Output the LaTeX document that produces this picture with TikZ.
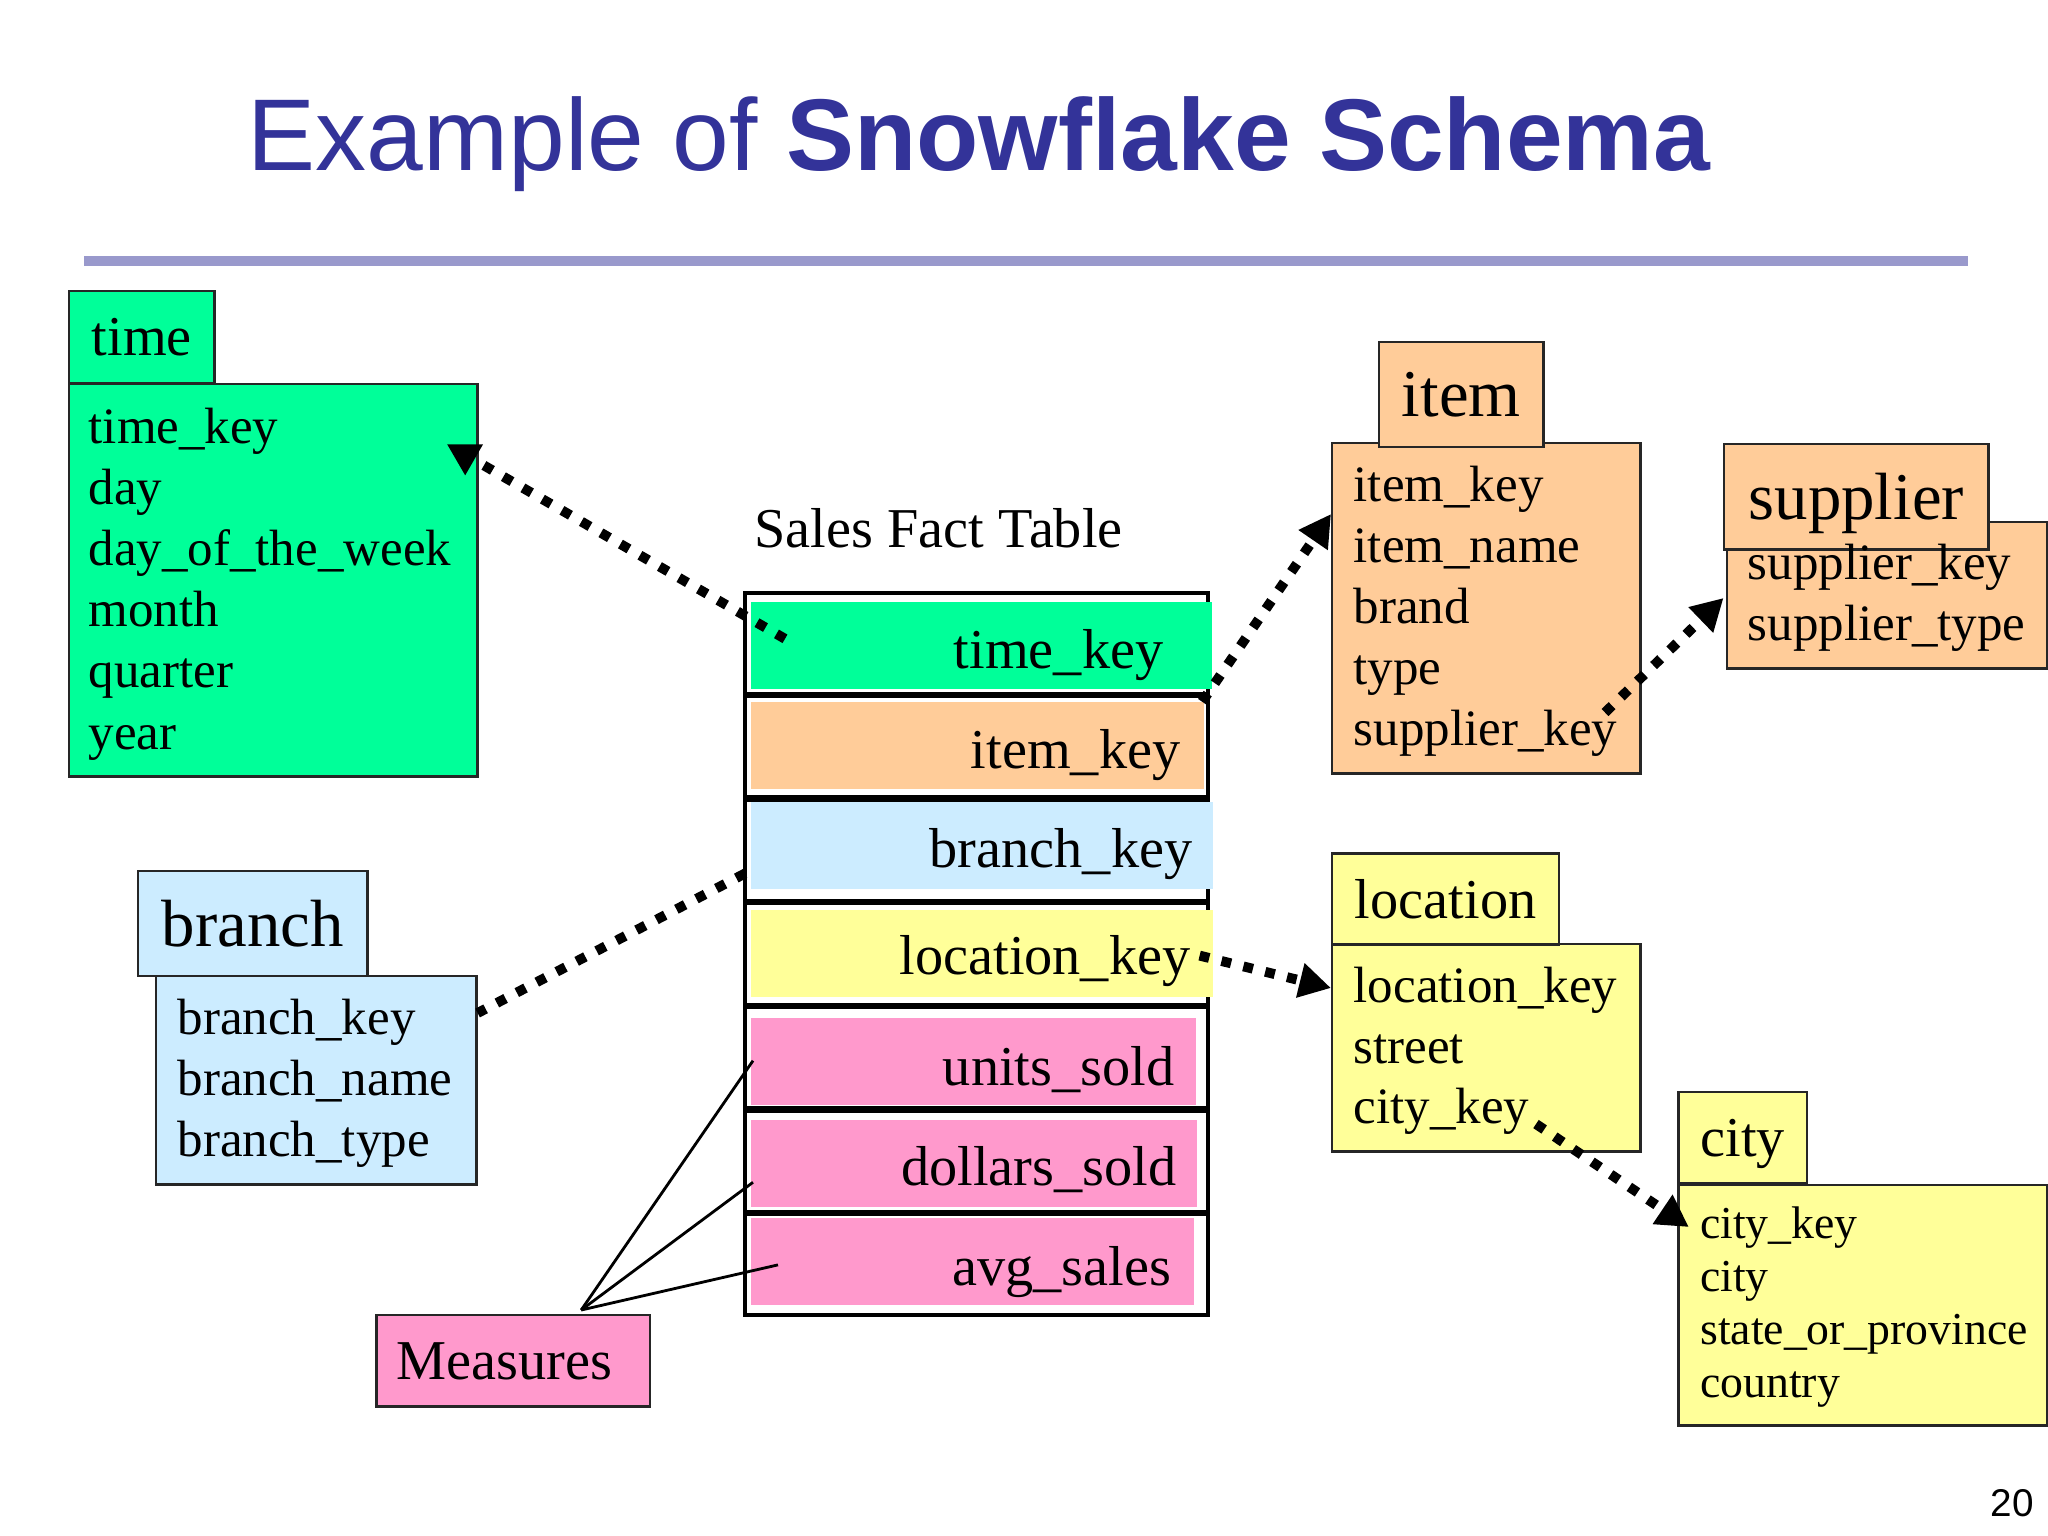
\documentclass[tikz,border=0pt]{standalone}
\usepackage{fontspec}
\setmainfont{Liberation Serif}
\newfontfamily\sansf{Liberation Sans}
\usetikzlibrary{arrows.meta,calc}
\definecolor{keygreen}{RGB}{0,255,153}
\definecolor{keypeach}{RGB}{255,204,153}
\definecolor{keyblue}{RGB}{204,236,255}
\definecolor{keyyellow}{RGB}{255,255,153}
\definecolor{keypink}{RGB}{255,153,204}
\definecolor{titleblue}{RGB}{51,51,153}
\definecolor{rulecol}{RGB}{153,153,204}
\newcommand\headbig{\fontsize{19}{23}\selectfont}
\newcommand\headsmall{\fontsize{16}{19}\selectfont}
\tikzset{
  tbl/.style={draw=black!85, line width=0.7pt, inner sep=0pt, anchor=north west},
  hdr/.style={tbl, text depth=0pt},
  attr/.style={anchor=base west, inner sep=0pt, font=\fontsize{14.5}{17.5}\selectfont},
  fk/.style={line width=2.8pt, dash pattern=on 2.8pt off 3.6pt},
  fkarrow/.style={fk, -{Triangle[length=9pt,width=9.5pt]}}
}
\begin{document}
\begin{tikzpicture}[x=0.01cm, y=-0.01cm]
\useasboundingbox (0,0) rectangle (2048,1536);
% title
\node[anchor=base west, inner sep=0pt, text=titleblue, font=\sansf\fontsize{29}{34}\selectfont] (title) at (247,170) {Example of \textbf{Snowflake Schema}};
\draw[rulecol, line width=2.9pt] (84,261) -- (1968,261);

% time
\node[tbl, fill=keygreen, minimum width=4.08cm, minimum height=3.92cm] (timeBody) at (68,383) {};
\node[hdr, fill=keygreen, minimum width=1.45cm, minimum height=0.92cm, font=\headsmall] (timeHead) at (68,289.5) {time};
\foreach \t [count=\i] in {time\_key,day,day\_of\_the\_week,month,quarter,year}
  \node[attr] (time\i) at (88,381.8+61.2*\i) {\t};

% fact table
\node[anchor=base west, inner sep=0pt, font=\fontsize{16}{19}\selectfont] (factTitle) at (754,547) {Sales Fact Table};
\foreach \i in {1,...,7}
  \node[tbl, line width=1.1pt, draw=black, fill=white, minimum width=4.63cm, minimum height=1.01cm] (f\i) at (743,487.2+103.6*\i) {};
\foreach \i/\col/\yt/\xr/\lab/\xt/\yb in {
  1/keygreen/602/1212/time\_key/1164/668,
  2/keypeach/702/1204/item\_key/1181/768,
  3/keyblue/802/1213/branch\_key/1193/867,
  4/keyyellow/910/1213/location\_key/1191/974,
  5/keypink/1018/1196/units\_sold/1175/1085,
  6/keypink/1120/1197/dollars\_sold/1177/1185,
  7/keypink/1218/1194/avg\_sales/1172/1285}
{
  \fill[\col] (751,\yt) rectangle (\xr,\yt+87);
  \node[anchor=base east, inner sep=0pt, font=\fontsize{16}{19}\selectfont] (fl\i) at (\xt,\yb) {\lab};
}

% item
\node[tbl, fill=keypeach, minimum width=3.08cm, minimum height=3.305cm] (itemBody) at (1331,441.5) {};
\node[hdr, fill=keypeach, minimum width=1.64cm, minimum height=1.045cm, font=\headbig] (itemHead) at (1378,341) {item};
\foreach \t [count=\i] in {item\_key,item\_name,brand,type,supplier\_key}
  \node[attr] (item\i) at (1353,439.8+61.2*\i) {\t};

% supplier
\node[tbl, fill=keypeach, minimum width=3.205cm, minimum height=1.46cm] (supBody) at (1725.5,521) {};
\node[hdr, fill=keypeach, minimum width=2.64cm, minimum height=1.05cm, font=\headbig] (supHead) at (1723,443) {supplier};
\foreach \t [count=\i] in {supplier\_key,supplier\_type}
  \node[attr] (sup\i) at (1747,518.4+61.2*\i) {\t};

% branch
\node[tbl, fill=keyblue, minimum width=3.2cm, minimum height=2.08cm] (branchBody) at (155,975) {};
\node[hdr, fill=keyblue, minimum width=2.294cm, minimum height=1.047cm, font=\headbig] (branchHead) at (136.6,870) {branch};
\foreach \t [count=\i] in {branch\_key,branch\_name,branch\_type}
  \node[attr] (branch\i) at (177,972.8+61.2*\i) {\t};

% measures
\node[hdr, fill=keypink, minimum width=2.73cm, minimum height=0.91cm, font=\fontsize{16}{19}\selectfont] (measures) at (375.4,1314) {Measures\kern5pt};

% location
\node[tbl, fill=keyyellow, minimum width=3.08cm, minimum height=2.073cm] (locBody) at (1331,943) {};
\node[hdr, fill=keyyellow, minimum width=2.266cm, minimum height=0.906cm, font=\headsmall] (locHead) at (1331,852.4) {location};
\foreach \t [count=\i] in {location\_key,street,city\_key}
  \node[attr] (loc\i) at (1353,942.1+60.6*\i) {\t};

% city
\node[tbl, fill=keyyellow, minimum width=3.687cm, minimum height=2.4cm] (cityBody) at (1677.3,1184) {};
\node[hdr, fill=keyyellow, minimum width=1.283cm, minimum height=0.91cm, font=\headsmall] (cityHead) at (1677.3,1091) {city};
\foreach \t [count=\i] in {city\_key,city,state\_or\_province,country}
  \node[attr, font=\fontsize{13}{15.5}\selectfont] (city\i) at (1699.5,1184.8+53.2*\i) {\t};

\node[anchor=base west, inner sep=0pt, font=\sansf\fontsize{11}{13}\selectfont] (page) at (1990,1516) {20};

% keys
\draw[fkarrow] ($(f1.north west)+(42,48)$) -- ($(timeBody.north east)+(-32,61)$);
\draw[fkarrow] ($(f1.south east)+(-8,6)$) -- ($(itemBody.north west)+(0,72.5)$);
\draw[fkarrow] ($(itemBody.north west)+(274,271)$) -- ($(supBody.north west)+(-2,77)$);
\draw[fk] ($(f3.west)+(2,23)$) -- ($(branchBody.north east)+(0,38)$);
\draw[fkarrow] ($(f4.north east)+(-10.5,54)$) -- ($(locBody.north west)+(0,45)$);
\draw[fkarrow] ($(locBody.north west)+(205,181)$) -- ($(cityBody.north west)+(11.5,43)$);

% measures
\coordinate (mTop) at ($(measures.north)+(68,-4)$);
\foreach \i/\dx/\dy in {5/10/3,6/10/21,7/35/0}
  \draw[line width=0.8pt] (mTop) -- ($(f\i.west)+(\dx,\dy)$);
\end{tikzpicture}
\end{document}
